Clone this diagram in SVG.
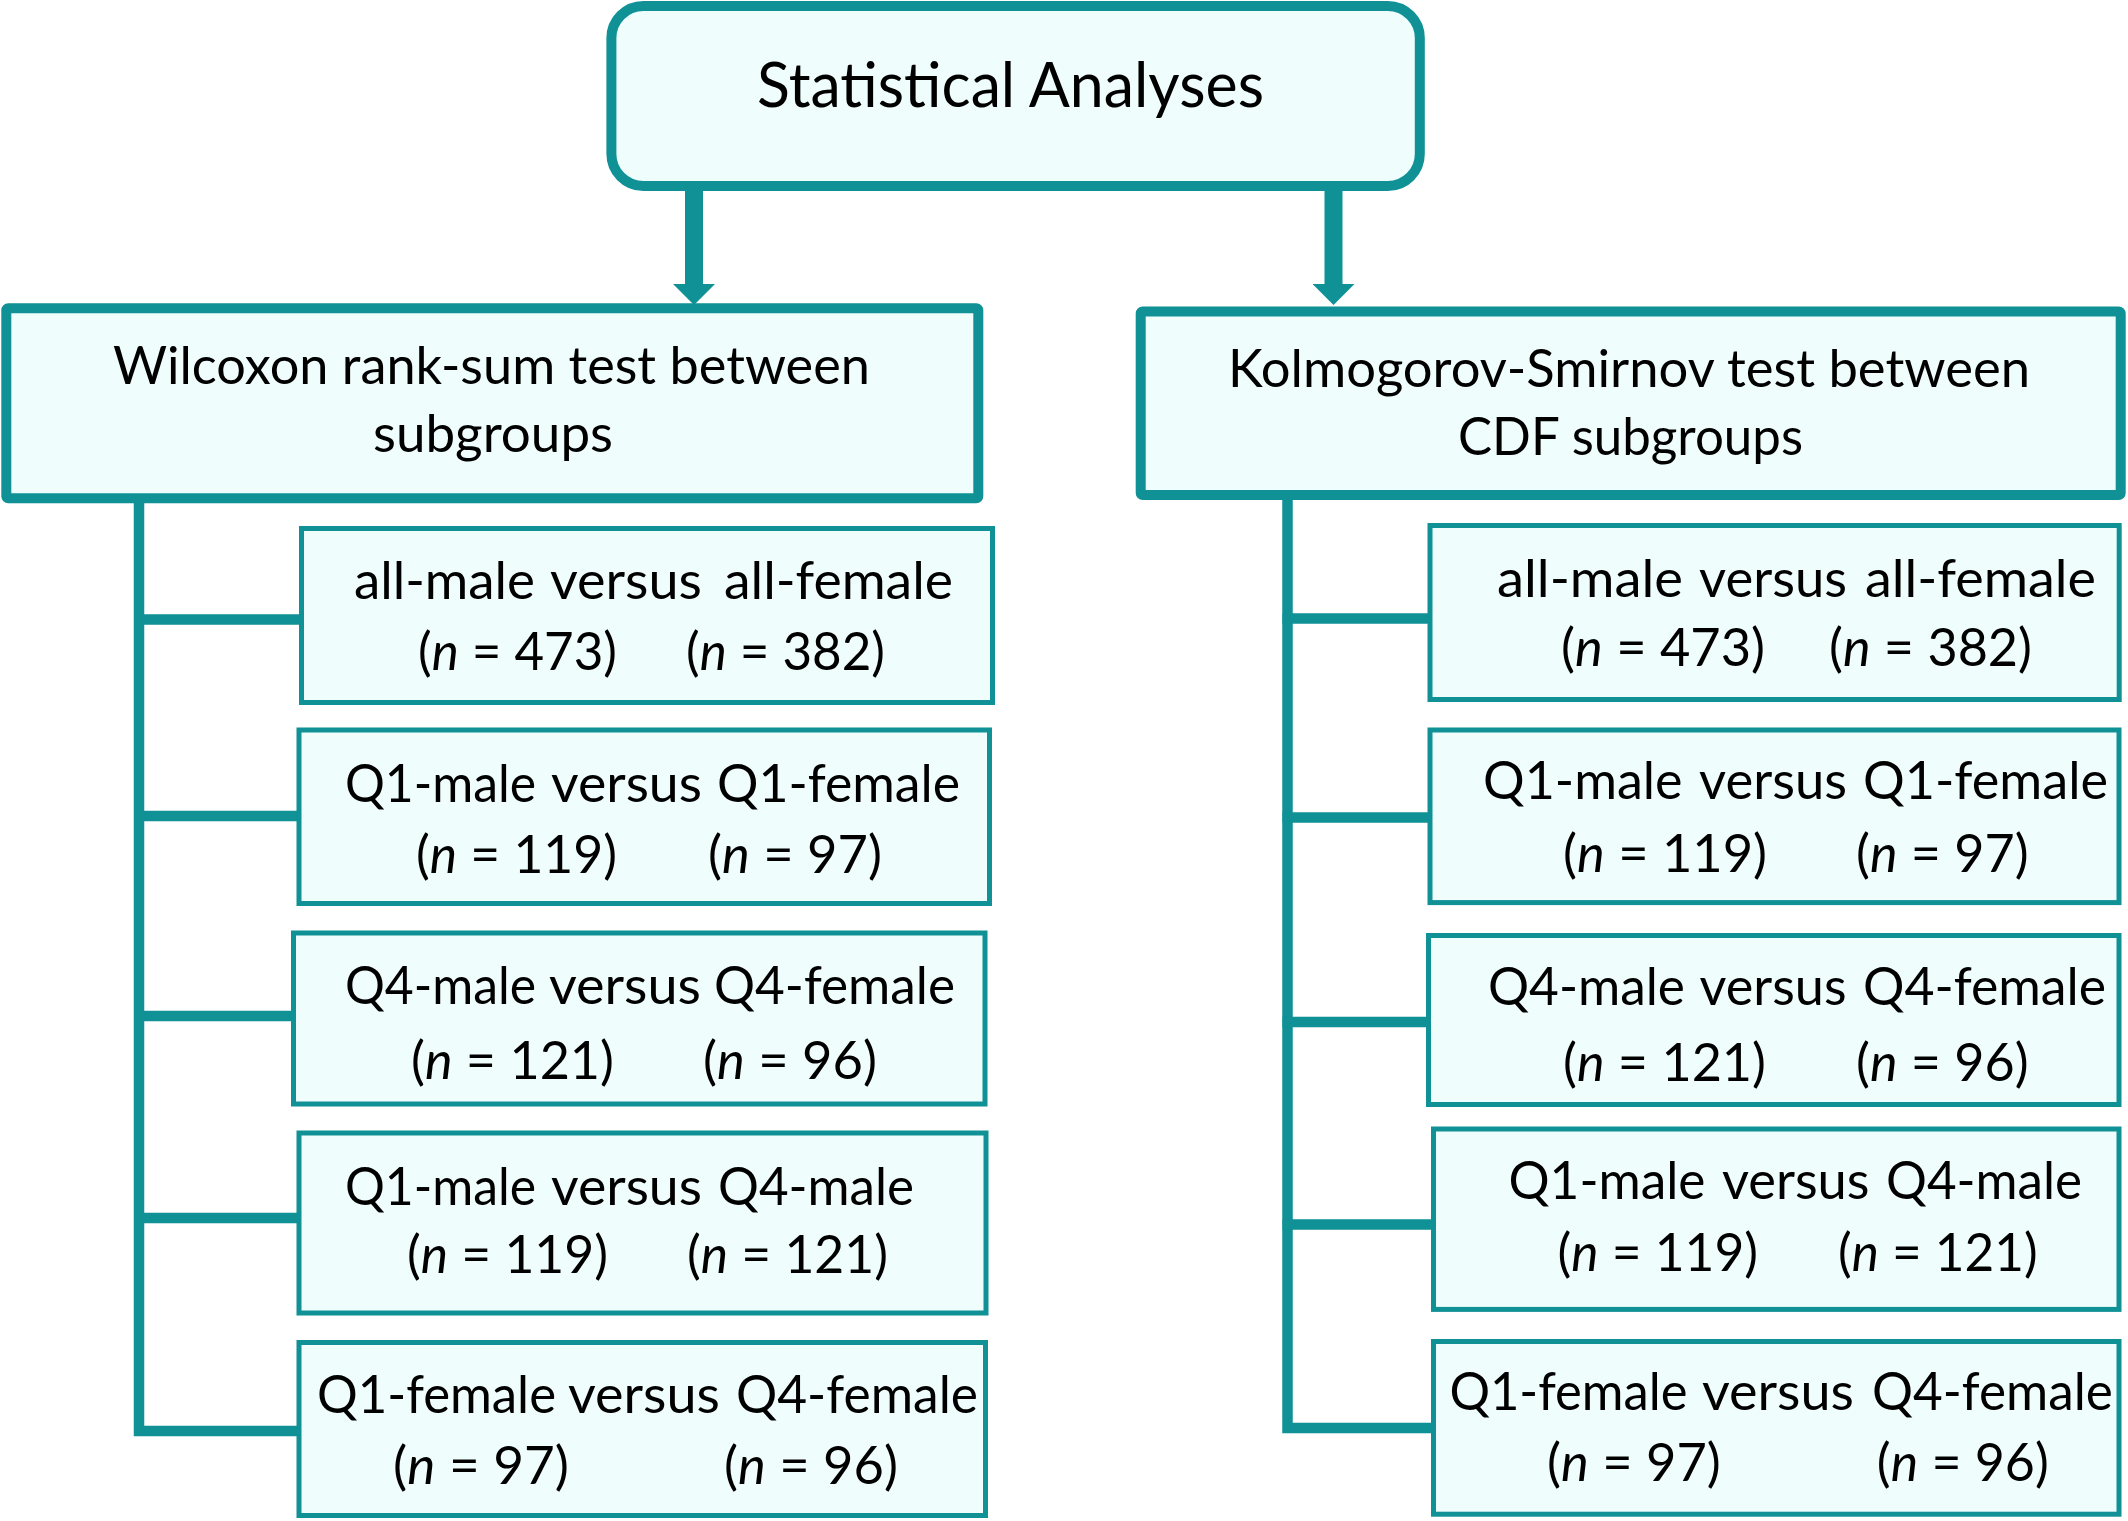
<svg xmlns="http://www.w3.org/2000/svg" width="2128" height="1521" viewBox="0 0 2128 1521">
<defs>
<style>
.big{fill:#F0FDFD;stroke:#0F9196;stroke-width:10}
.small{fill:#F0FDFD;stroke:#0F9196;stroke-width:5}
.conn{fill:none;stroke:#0F9196;stroke-width:10.5;stroke-linejoin:miter;stroke-linecap:butt}
.arr{fill:none;stroke:#0F9196;stroke-width:18}
.t{font-family:Lato,"Liberation Sans",sans-serif;font-size:52px;fill:#000}
.tt{font-family:Lato,"Liberation Sans",sans-serif;font-size:61px;fill:#000}
.i{font-style:italic}
</style>
<marker id="head" viewBox="0 0 21 42" refX="0" refY="21" markerWidth="21" markerHeight="42" markerUnits="userSpaceOnUse" orient="auto">
<path d="M0,0 L21,21 L0,42 z" fill="#0F9196"/>
</marker>
</defs>
<rect width="2128" height="1521" fill="#FFFFFF"/>

<g id="connectors">
<path class="arr" d="M694,188 V284" marker-end="url(#head)"/>
<path class="arr" d="M1333.5,188 V284" marker-end="url(#head)"/>
<path class="conn" d="M139,500 V1431 H300"/>
<path class="conn" d="M134,619.5 H302"/>
<path class="conn" d="M134,816 H299"/>
<path class="conn" d="M134,1016 H294"/>
<path class="conn" d="M134,1218 H299"/>
<path class="conn" d="M1287.5,497 V1428 H1434"/>
<path class="conn" d="M1282.5,618.5 H1430"/>
<path class="conn" d="M1282.5,817.5 H1430"/>
<path class="conn" d="M1282.5,1022 H1429"/>
<path class="conn" d="M1282.5,1224.5 H1434"/>
</g>

<g id="root">
<rect class="big" x="611.4" y="6" width="808.4" height="180" rx="32"/>
<text class="tt" x="757" y="107.3" textLength="507" lengthAdjust="spacingAndGlyphs">Statistical Analyses</text>
</g>

<g id="wilcoxon">
<rect class="big" x="6.3" y="308.3" width="972" height="190" rx="2"/>
<text class="t" x="113" y="383.5" textLength="757" lengthAdjust="spacingAndGlyphs">Wilcoxon rank-sum test between</text>
<text class="t" x="373" y="452" textLength="240" lengthAdjust="spacingAndGlyphs">subgroups</text>
</g>

<g id="ks">
<rect class="big" x="1140.7" y="311.5" width="980" height="183.5" rx="2"/>
<text class="t" x="1228" y="386.5" textLength="802" lengthAdjust="spacingAndGlyphs">Kolmogorov-Smirnov test between</text>
<text class="t" x="1458" y="455" textLength="345" lengthAdjust="spacingAndGlyphs">CDF subgroups</text>
</g>

<g id="w-all">
<rect class="small" x="301.5" y="528.5" width="691" height="174"/>
<text class="t" x="354" y="599" textLength="181" lengthAdjust="spacingAndGlyphs">all-male</text>
<text class="t" x="550" y="599" textLength="152" lengthAdjust="spacingAndGlyphs">versus</text>
<text class="t" x="724" y="599" textLength="229" lengthAdjust="spacingAndGlyphs">all-female</text>
<text class="t" x="418" y="670" textLength="199" lengthAdjust="spacingAndGlyphs">(<tspan class="i">n</tspan> = 473)</text>
<text class="t" x="686" y="670" textLength="199" lengthAdjust="spacingAndGlyphs">(<tspan class="i">n</tspan> = 382)</text>
</g>

<g id="w-q1">
<rect class="small" x="299" y="730" width="690.5" height="173.5"/>
<text class="t" x="345" y="802" textLength="191" lengthAdjust="spacingAndGlyphs">Q1-male</text>
<text class="t" x="551" y="802" textLength="151" lengthAdjust="spacingAndGlyphs">versus</text>
<text class="t" x="717" y="802" textLength="243" lengthAdjust="spacingAndGlyphs">Q1-female</text>
<text class="t" x="416" y="873" textLength="201" lengthAdjust="spacingAndGlyphs">(<tspan class="i">n</tspan> = 119)</text>
<text class="t" x="708" y="873" textLength="174" lengthAdjust="spacingAndGlyphs">(<tspan class="i">n</tspan> = 97)</text>
</g>

<g id="w-q4">
<rect class="small" x="293.5" y="933" width="691.5" height="171"/>
<text class="t" x="345" y="1004" textLength="191" lengthAdjust="spacingAndGlyphs">Q4-male</text>
<text class="t" x="549" y="1004" textLength="152" lengthAdjust="spacingAndGlyphs">versus</text>
<text class="t" x="714" y="1004" textLength="241" lengthAdjust="spacingAndGlyphs">Q4-female</text>
<text class="t" x="411" y="1079" textLength="203" lengthAdjust="spacingAndGlyphs">(<tspan class="i">n</tspan> = 121)</text>
<text class="t" x="703" y="1079" textLength="174" lengthAdjust="spacingAndGlyphs">(<tspan class="i">n</tspan> = 96)</text>
</g>

<g id="w-male">
<rect class="small" x="299" y="1133" width="687" height="180"/>
<text class="t" x="345" y="1204.5" textLength="191" lengthAdjust="spacingAndGlyphs">Q1-male</text>
<text class="t" x="551" y="1204.5" textLength="151" lengthAdjust="spacingAndGlyphs">versus</text>
<text class="t" x="718" y="1204.5" textLength="196" lengthAdjust="spacingAndGlyphs">Q4-male</text>
<text class="t" x="407" y="1273" textLength="201" lengthAdjust="spacingAndGlyphs">(<tspan class="i">n</tspan> = 119)</text>
<text class="t" x="687" y="1273" textLength="201" lengthAdjust="spacingAndGlyphs">(<tspan class="i">n</tspan> = 121)</text>
</g>

<g id="w-female">
<rect class="small" x="299" y="1342.5" width="686.5" height="173"/>
<text class="t" x="317" y="1413.3" textLength="239" lengthAdjust="spacingAndGlyphs">Q1-female</text>
<text class="t" x="568" y="1413.3" textLength="152" lengthAdjust="spacingAndGlyphs">versus</text>
<text class="t" x="736" y="1413.3" textLength="242" lengthAdjust="spacingAndGlyphs">Q4-female</text>
<text class="t" x="393" y="1484" textLength="176" lengthAdjust="spacingAndGlyphs">(<tspan class="i">n</tspan> = 97)</text>
<text class="t" x="724" y="1484" textLength="174" lengthAdjust="spacingAndGlyphs">(<tspan class="i">n</tspan> = 96)</text>
</g>

<g id="k-all">
<rect class="small" x="1430" y="525.5" width="689.2" height="174"/>
<text class="t" x="1497" y="597" textLength="186" lengthAdjust="spacingAndGlyphs">all-male</text>
<text class="t" x="1699" y="597" textLength="148" lengthAdjust="spacingAndGlyphs">versus</text>
<text class="t" x="1865" y="597" textLength="231" lengthAdjust="spacingAndGlyphs">all-female</text>
<text class="t" x="1561" y="666" textLength="204" lengthAdjust="spacingAndGlyphs">(<tspan class="i">n</tspan> = 473)</text>
<text class="t" x="1829" y="666" textLength="203" lengthAdjust="spacingAndGlyphs">(<tspan class="i">n</tspan> = 382)</text>
</g>

<g id="k-q1">
<rect class="small" x="1430" y="730" width="689" height="172.6"/>
<text class="t" x="1483" y="799.2" textLength="199.5" lengthAdjust="spacingAndGlyphs">Q1-male</text>
<text class="t" x="1699" y="799.2" textLength="148" lengthAdjust="spacingAndGlyphs">versus</text>
<text class="t" x="1863" y="799.2" textLength="245" lengthAdjust="spacingAndGlyphs">Q1-female</text>
<text class="t" x="1563" y="872" textLength="204" lengthAdjust="spacingAndGlyphs">(<tspan class="i">n</tspan> = 119)</text>
<text class="t" x="1856" y="872" textLength="172.6" lengthAdjust="spacingAndGlyphs">(<tspan class="i">n</tspan> = 97)</text>
</g>

<g id="k-q4">
<rect class="small" x="1428.5" y="935.5" width="690.5" height="169"/>
<text class="t" x="1488" y="1005.2" textLength="197" lengthAdjust="spacingAndGlyphs">Q4-male</text>
<text class="t" x="1699.5" y="1005.2" textLength="147" lengthAdjust="spacingAndGlyphs">versus</text>
<text class="t" x="1863" y="1005.2" textLength="243" lengthAdjust="spacingAndGlyphs">Q4-female</text>
<text class="t" x="1563" y="1081" textLength="203" lengthAdjust="spacingAndGlyphs">(<tspan class="i">n</tspan> = 121)</text>
<text class="t" x="1856" y="1081" textLength="172.6" lengthAdjust="spacingAndGlyphs">(<tspan class="i">n</tspan> = 96)</text>
</g>

<g id="k-male">
<rect class="small" x="1433.5" y="1129" width="685.5" height="180.4"/>
<text class="t" x="1508.5" y="1198.5" textLength="197" lengthAdjust="spacingAndGlyphs">Q1-male</text>
<text class="t" x="1722" y="1198.5" textLength="147.5" lengthAdjust="spacingAndGlyphs">versus</text>
<text class="t" x="1886" y="1198.5" textLength="196" lengthAdjust="spacingAndGlyphs">Q4-male</text>
<text class="t" x="1557.6" y="1271" textLength="200.4" lengthAdjust="spacingAndGlyphs">(<tspan class="i">n</tspan> = 119)</text>
<text class="t" x="1838" y="1271" textLength="199.7" lengthAdjust="spacingAndGlyphs">(<tspan class="i">n</tspan> = 121)</text>
</g>

<g id="k-female">
<rect class="small" x="1433.5" y="1341.5" width="685.5" height="172.7"/>
<text class="t" x="1449.4" y="1410" textLength="238" lengthAdjust="spacingAndGlyphs">Q1-female</text>
<text class="t" x="1702" y="1410" textLength="152" lengthAdjust="spacingAndGlyphs">versus</text>
<text class="t" x="1872" y="1410" textLength="240.8" lengthAdjust="spacingAndGlyphs">Q4-female</text>
<text class="t" x="1547" y="1481" textLength="173.8" lengthAdjust="spacingAndGlyphs">(<tspan class="i">n</tspan> = 97)</text>
<text class="t" x="1876.8" y="1481" textLength="172" lengthAdjust="spacingAndGlyphs">(<tspan class="i">n</tspan> = 96)</text>
</g>
</svg>
